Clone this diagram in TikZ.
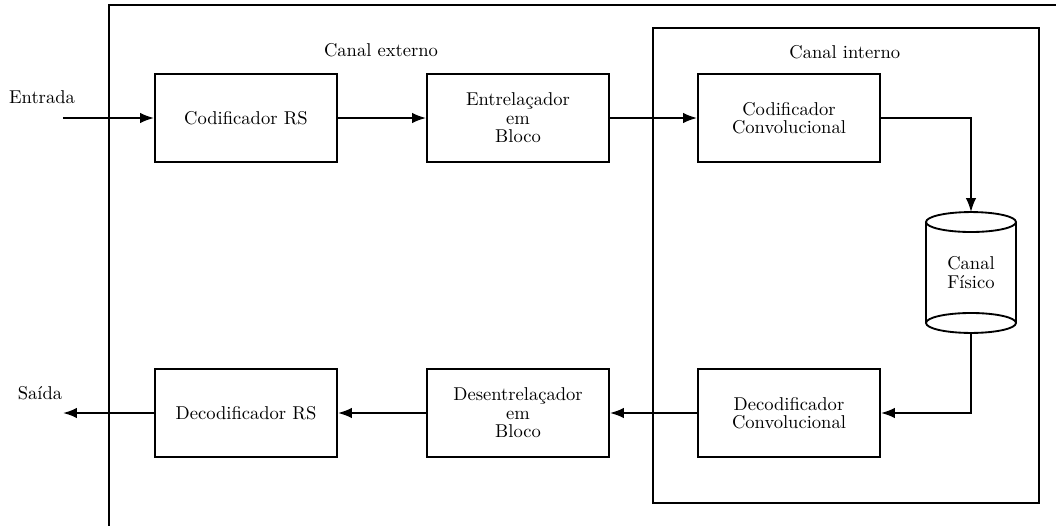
\documentclass[tikz,border=0pt]{standalone}
\usepackage{amsmath}
\usetikzlibrary{arrows.meta}

\tikzset{
  bloco/.style={draw, line width=1pt, minimum width=3.447cm, minimum height=1.667cm, align=center},
  fluxo/.style={->, line width=1pt},
}

\begin{document}
\begin{tikzpicture}[>=Latex, scale=1.0]
  \useasboundingbox (0,0) rectangle (20,9.962);
  % canal externo (moldura cortada)
  \draw[line width=1pt] (20.2,9.867) -| (2.064,-0.2);
  \node (ext) at (7.216,9.015) {Canal externo};
  % canal interno
  \draw[line width=1pt] (12.367,0.436) rectangle (19.678,9.432);
  \node (int) at (16.0,8.977) {Canal interno};
  % codificacao
  \node[bloco] (crs) at (4.659,7.727) {Codificador RS};
  \node[bloco] (ent) at (9.811,7.727) {Entrela\c{c}ador\\[-2pt]em\\[-2pt]Bloco};
  \node[bloco] (cconv) at (14.943,7.727) {Codificador\\[-2pt]Convolucional};
  % canal fisico (cilindro)
  \node[minimum width=1.704cm, minimum height=2.29cm, inner sep=0pt, outer sep=0pt, align=center]
        (fis) at (18.390,4.801) {\raisebox{-6pt}{\shortstack{Canal\\F\'isico}}};
  \draw[line width=1pt] ([yshift=-0.189cm]fis.north) ellipse [x radius=0.852, y radius=0.189];
  \draw[line width=1pt] ([yshift=0.189cm]fis.south) ellipse [x radius=0.852, y radius=0.189];
  \draw[line width=1pt] ([yshift=-0.189cm]fis.north west) -- ([yshift=0.189cm]fis.south west);
  \draw[line width=1pt] ([yshift=-0.189cm]fis.north east) -- ([yshift=0.189cm]fis.south east);
  % decodificacao
  \node[bloco] (dconv) at (14.943,2.140) {Decodificador\\[-2pt]Convolucional};
  \node[bloco] (des) at (9.811,2.140) {Desentrela\c{c}ador\\[-2pt]em\\[-2pt]Bloco};
  \node[bloco] (drs) at (4.659,2.140) {Decodificador RS};
  % entrada e saida
  \coordinate (in) at (1.193,7.727);
  \coordinate (out) at (1.193,2.140);
  \node (lin) at (0.795,8.125) {Entrada};
  \node (lout) at (0.758,2.519) {Sa\'ida};
  % ligacoes
  \draw[fluxo] (in) -- (crs);
  \draw[fluxo] (crs) -- (ent);
  \draw[fluxo] (ent) -- (cconv);
  \draw[fluxo] (cconv.east) -| (fis.north);
  \draw[fluxo] (fis.south) |- (dconv.east);
  \draw[fluxo] (dconv) -- (des);
  \draw[fluxo] (des) -- (drs);
  \draw[fluxo] (drs) -- (out);
\end{tikzpicture}
\end{document}
